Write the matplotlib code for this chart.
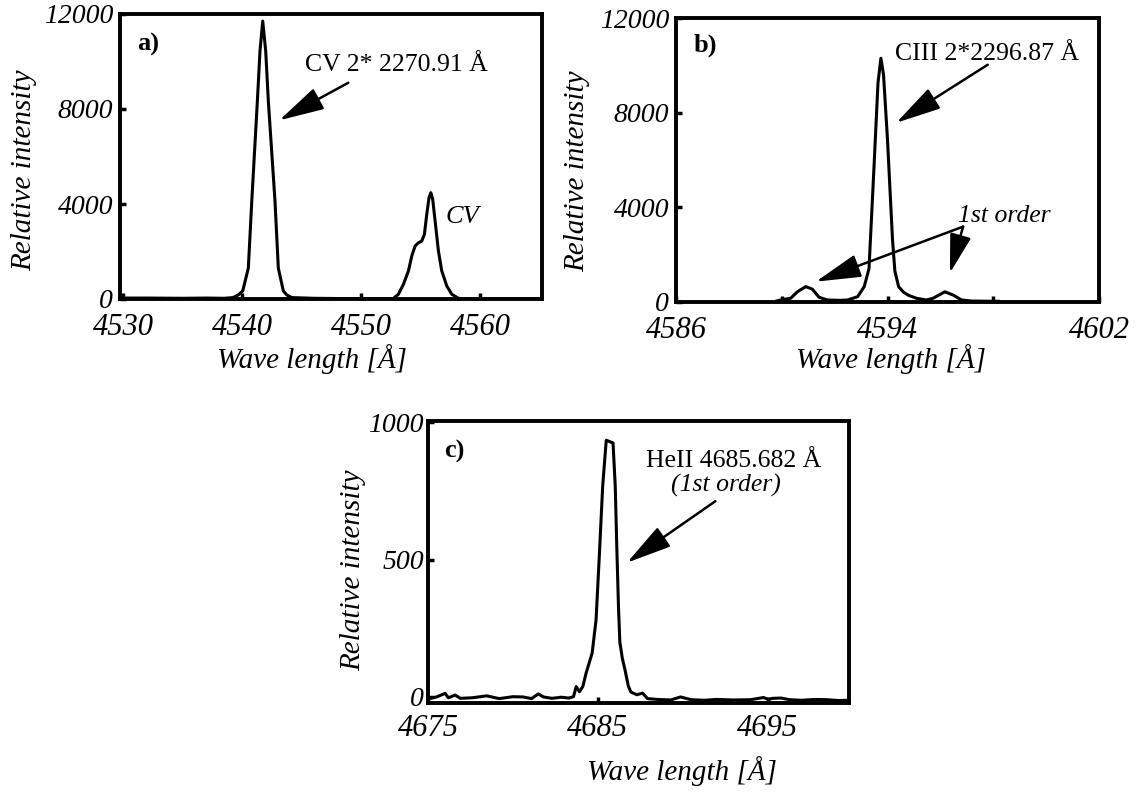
import matplotlib
matplotlib.use("Agg")
import matplotlib.pyplot as plt

plt.rcParams["font.family"] = "serif"
plt.rcParams["font.serif"] = ["Liberation Serif", "DejaVu Serif"]
plt.rcParams["font.style"] = "italic"

# ---- data (wavelength in Angstrom, relative intensity)
# a) CV 2nd order 2270.91 A + CV 1st order
wl_a = [4529.75, 4532.0, 4535.0, 4537.0, 4538.5, 4539.24, 4539.69, 4540.06, 4540.53,
        4540.82, 4541.29, 4541.51, 4541.74, 4541.99, 4542.21, 4542.77, 4543.05, 4543.47,
        4543.76, 4544.18, 4546.0, 4548.0, 4550.0, 4552.0, 4552.71, 4553.14, 4553.56,
        4553.98, 4554.26, 4554.54, 4554.82, 4555.10, 4555.32, 4555.52, 4555.71, 4555.86,
        4556.02, 4556.22, 4556.50, 4556.78, 4557.20, 4557.62, 4558.18, 4558.9, 4562.0, 4565.2]
int_a = [40, 40, 30, 40, 30, 60, 170, 340, 1300,
         4125, 8340, 10440, 11700, 10440, 8340, 4125, 1300, 340,
         170, 60, 30, 20, 15, 15, 20, 200, 620,
         1180, 1810, 2230, 2370, 2440, 2720, 3565, 4265, 4475,
         4195, 3285, 2020, 1180, 550, 200, 30, 0, 0, 0]

# b) CIII 2nd order 2296.87 A with 1st order satellites
wl_b = [4589.8, 4589.96, 4590.34, 4590.60, 4590.91, 4591.16, 4591.41, 4591.73, 4592.2,
        4592.49, 4592.87, 4593.12, 4593.30, 4593.49, 4593.64, 4593.75, 4593.85, 4594.00,
        4594.19, 4594.28, 4594.42, 4594.60, 4594.80, 4595.10, 4595.47, 4595.72, 4596.17,
        4596.48, 4596.80, 4597.2, 4598.0, 4598.2]
int_b = [40, 85, 160, 440, 650, 540, 200, 85, 70,
         85, 225, 650, 1410, 5720, 9250, 10300, 9600, 6850,
         2620, 1300, 650, 420, 280, 156, 85, 156, 430,
         296, 85, 40, 30, 30]

# c) HeII 4685.682 A, 1st order
wl_c = [4675.13, 4675.5, 4676.01, 4676.2, 4676.6, 4676.9, 4677.6, 4678.46, 4679.2,
        4680.0, 4680.6, 4681.1, 4681.5, 4681.8, 4682.3, 4682.85, 4683.3, 4683.57,
        4683.73, 4683.92, 4684.12, 4684.31, 4684.67, 4684.90, 4685.10, 4685.29, 4685.50,
        4685.90, 4686.03, 4686.12, 4686.22, 4686.30, 4686.45, 4686.60, 4686.80, 4686.95,
        4687.30, 4687.64, 4687.93, 4688.5, 4689.3, 4689.88, 4690.5, 4691.3, 4692.0,
        4693.0, 4694.0, 4694.76, 4695.05, 4695.3, 4695.8, 4696.3, 4697.0, 4697.8,
        4698.5, 4699.2, 4699.8]
int_c = [-5, 0, 13, -3, 7, -5, -3, 4, -6,
         1, 0, -6, 11, 0, -5, -1, -4, 1,
         38, 19, 38, 86, 160, 281, 524, 768, 935,
         925, 768, 550, 330, 200, 140, 100, 40, 18,
         8, 14, -6, -9, -11, 0, -10, -12, -9,
         -11, -10, -2, -9, -5, -4, -10, -12, -9,
         -10, -13, -12]

W, H = 1139, 796
fig = plt.figure(figsize=(W / 100, H / 100), dpi=100)


def add_panel(left, top, right, bottom, xpad=10):
    ax = fig.add_axes([left / W, 1 - bottom / H, (right - left) / W, (bottom - top) / H])
    for s in ax.spines.values():
        s.set_linewidth(2.8)
    ax.tick_params(direction="in", length=4, width=2.5, top=False, right=False)
    ax.tick_params(axis="x", labelsize=22, pad=xpad)
    ax.tick_params(axis="y", labelsize=20, pad=5)
    return ax


def fig_text(x, y, s, **kw):
    fig.text(x / W, 1 - y / H, s, **kw)


arrow = dict(arrowstyle="-|>,head_length=1.4,head_width=0.36", color="black",
             lw=1.8, shrinkA=0, shrinkB=0, mutation_scale=20)
plain = dict(fontsize=18.5, fontstyle="normal")

# ---- panel a
ax = add_panel(120, 14, 542, 299)
ax.plot(wl_a, int_a, color="black", lw=2.2)
ax.set_xlim(4529.75, 4565.2)
ax.set_ylim(0, 12000)
ax.set_xticks([4530, 4540, 4550, 4560])
ax.set_yticks([0, 4000, 8000, 12000])
ax.set_yticklabels(["0", "4000", "8000", "12000"])
ax.text(4531.18, 10440, "a)", fontsize=19, fontweight="bold", fontstyle="normal", va="baseline")
ax.text(4545.29, 9600, "CV 2* 2270.91 Å", va="baseline", **plain)
ax.text(4557.06, 3212, "CV", fontsize=19, va="baseline")
ax.annotate("", xy=(4543.13, 7523), xytext=(4548.93, 9106), arrowprops=arrow)
fig_text(312, 368, "Wave length [Å]", fontsize=21, ha="center", va="baseline")
fig_text(24, 170, "Relative intensity", fontsize=21, rotation=90, ha="center", va="center")

# ---- panel b
ax = add_panel(676, 18, 1099, 302)
ax.plot(wl_b, int_b, color="black", lw=2.2)
ax.set_xlim(4586, 4602)
ax.set_ylim(0, 12000)
ax.set_xticks([4586, 4590, 4594, 4598, 4602])
ax.set_xticklabels(["4586", "", "4594", "", "4602"])
ax.set_yticks([0, 4000, 8000, 12000])
ax.set_yticklabels(["0", "4000", "8000", "12000"])
ax.text(4586.67, 10575, "b)", fontsize=19, fontweight="bold", fontstyle="normal", va="baseline")
ax.text(4594.28, 10237, "CIII 2*2296.87 Å", va="baseline", **plain)
ax.text(4596.66, 3384, "1st order", fontsize=18.5, va="baseline")
ax.annotate("", xy=(4594.33, 7572), xytext=(4597.79, 10025), arrowprops=arrow)
ax.annotate("", xy=(4591.29, 859), xytext=(4596.86, 3185), arrowprops=arrow)
ax.annotate("", xy=(4596.36, 1227), xytext=(4596.86, 3185),
            arrowprops=dict(arrow, arrowstyle="-|>,head_length=1.2,head_width=0.33"))
fig_text(891, 368, "Wave length [Å]", fontsize=21, ha="center", va="baseline")
fig_text(577, 171, "Relative intensity", fontsize=21, rotation=90, ha="center", va="center")

# ---- panel c
ax = add_panel(428, 421, 849, 703, xpad=8)
ax.plot(wl_c, int_c, color="black", lw=2.2)
ax.set_xlim(4675.13, 4699.8)
ax.set_ylim(-22, 1005)
ax.set_xticks([4675, 4685, 4695])
ax.set_yticks([0, 500, 1000])
ax.set_yticklabels(["0", "500", "1000"])
ax.tick_params(axis="y", pad=3)
ax.text(4675.94, 872, "c)", fontsize=19, fontweight="bold", fontstyle="normal", va="baseline")
ax.text(4687.83, 836, "HeII 4685.682 Å", va="baseline", **plain)
ax.text(4689.29, 748, "(1st order)", fontsize=18.5, va="baseline")
ax.annotate("", xy=(4686.72, 489), xytext=(4691.93, 713), arrowprops=arrow)
fig_text(682, 780, "Wave length [Å]", fontsize=21, ha="center", va="baseline")
fig_text(353, 570, "Relative intensity", fontsize=21, rotation=90, ha="center", va="center")

fig.savefig("out.png", dpi=100)
